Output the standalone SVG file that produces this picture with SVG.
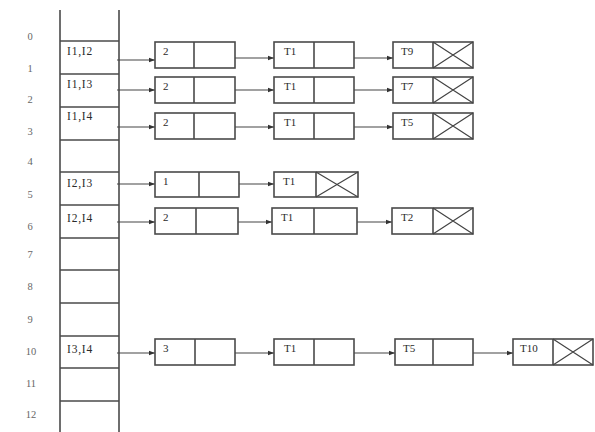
<svg xmlns="http://www.w3.org/2000/svg" width="595" height="432" viewBox="0 0 595 432">
<defs>
<style>
.ln{stroke:#4a4a4a;stroke-width:1.6;fill:none}
.bx{stroke:#4a4a4a;stroke-width:1.6;fill:#fff}
.cn{stroke:#444;stroke-width:1.2;fill:none}
.t{font-family:"Liberation Serif",serif;font-size:11px;fill:#2a2a2a}
.e{font-family:"Liberation Serif",serif;font-size:11.5px;fill:#2a2a2a;letter-spacing:0.8px}
.ix{font-family:"Liberation Serif",serif;font-size:10.5px;fill:#666;text-anchor:middle}
</style>
<marker id="ah" viewBox="0 0 8 8" refX="8" refY="4" markerWidth="6" markerHeight="6" orient="auto" markerUnits="userSpaceOnUse">
<path d="M0,1 L8,4 L0,7 Z" fill="#333"/>
</marker>
</defs>
<rect width="595" height="432" fill="#fff"/>
<g id="table">
<line class="ln" x1="60" y1="10" x2="60" y2="432"/>
<line class="ln" x1="119" y1="10" x2="119" y2="432"/>
<line class="ln" x1="60" y1="41" x2="119" y2="41"/>
<line class="ln" x1="60" y1="74" x2="119" y2="74"/>
<line class="ln" x1="60" y1="107" x2="119" y2="107"/>
<line class="ln" x1="60" y1="140" x2="119" y2="140"/>
<line class="ln" x1="60" y1="172" x2="119" y2="172"/>
<line class="ln" x1="60" y1="205" x2="119" y2="205"/>
<line class="ln" x1="60" y1="238" x2="119" y2="238"/>
<line class="ln" x1="60" y1="270" x2="119" y2="270"/>
<line class="ln" x1="60" y1="303" x2="119" y2="303"/>
<line class="ln" x1="60" y1="336" x2="119" y2="336"/>
<line class="ln" x1="60" y1="368" x2="119" y2="368"/>
<line class="ln" x1="60" y1="401" x2="119" y2="401"/>
<text class="ix" x="30" y="40">0</text>
<text class="ix" x="30" y="72">1</text>
<text class="ix" x="30" y="103">2</text>
<text class="ix" x="30" y="135">3</text>
<text class="ix" x="30" y="165">4</text>
<text class="ix" x="30" y="198">5</text>
<text class="ix" x="30" y="230">6</text>
<text class="ix" x="30" y="258">7</text>
<text class="ix" x="30" y="290">8</text>
<text class="ix" x="30" y="323">9</text>
<text class="ix" x="31" y="355">10</text>
<text class="ix" x="31" y="387">11</text>
<text class="ix" x="31" y="418">12</text>
<text class="e" x="67" y="55">I1,I2</text>
<text class="e" x="67" y="88">I1,I3</text>
<text class="e" x="67" y="120">I1,I4</text>
<text class="e" x="67" y="187">I2,I3</text>
<text class="e" x="67" y="222">I2,I4</text>
<text class="e" x="67" y="353">I3,I4</text>
</g>
<g id="connectors">
<line class="cn" x1="117" y1="60" x2="155" y2="60" marker-end="url(#ah)"/>
<line class="cn" x1="117" y1="90" x2="155" y2="90" marker-end="url(#ah)"/>
<line class="cn" x1="117" y1="127" x2="155" y2="127" marker-end="url(#ah)"/>
<line class="cn" x1="117" y1="184" x2="155" y2="184" marker-end="url(#ah)"/>
<line class="cn" x1="117" y1="222" x2="155" y2="222" marker-end="url(#ah)"/>
<line class="cn" x1="117" y1="353" x2="155" y2="353" marker-end="url(#ah)"/>
<line class="cn" x1="235" y1="58" x2="274" y2="58" marker-end="url(#ah)"/>
<line class="cn" x1="354" y1="58" x2="393" y2="58" marker-end="url(#ah)"/>
<line class="cn" x1="235" y1="90" x2="274" y2="90" marker-end="url(#ah)"/>
<line class="cn" x1="354" y1="90" x2="393" y2="90" marker-end="url(#ah)"/>
<line class="cn" x1="235" y1="127" x2="274" y2="127" marker-end="url(#ah)"/>
<line class="cn" x1="354" y1="127" x2="393" y2="127" marker-end="url(#ah)"/>
<line class="cn" x1="239" y1="184" x2="274" y2="184" marker-end="url(#ah)"/>
<line class="cn" x1="238" y1="222" x2="272" y2="222" marker-end="url(#ah)"/>
<line class="cn" x1="355" y1="222" x2="392" y2="222" marker-end="url(#ah)"/>
<line class="cn" x1="235" y1="353" x2="274" y2="353" marker-end="url(#ah)"/>
<line class="cn" x1="354" y1="353" x2="395" y2="353" marker-end="url(#ah)"/>
<line class="cn" x1="473" y1="353" x2="513" y2="353" marker-end="url(#ah)"/>
</g>
<g id="r1n1"><rect class="bx" x="155" y="42" width="80" height="26"/><line class="ln" x1="194" y1="42" x2="194" y2="68"/><text class="t" x="163" y="55">2</text></g>
<g id="r1n2"><rect class="bx" x="274" y="42" width="80" height="26"/><line class="ln" x1="314" y1="42" x2="314" y2="68"/><text class="t" x="284" y="55">T1</text></g>
<g id="r1n3"><rect class="bx" x="393" y="42" width="80" height="26"/><line class="ln" x1="433" y1="42" x2="433" y2="68"/><path class="cn" d="M433,42 L473,68 M433,68 L473,42"/><text class="t" x="401" y="55">T9</text></g>
<g id="r2n1"><rect class="bx" x="155" y="77" width="80" height="26"/><line class="ln" x1="194" y1="77" x2="194" y2="103"/><text class="t" x="163" y="90">2</text></g>
<g id="r2n2"><rect class="bx" x="274" y="77" width="80" height="26"/><line class="ln" x1="314" y1="77" x2="314" y2="103"/><text class="t" x="284" y="90">T1</text></g>
<g id="r2n3"><rect class="bx" x="393" y="77" width="80" height="26"/><line class="ln" x1="433" y1="77" x2="433" y2="103"/><path class="cn" d="M433,77 L473,103 M433,103 L473,77"/><text class="t" x="401" y="90">T7</text></g>
<g id="r3n1"><rect class="bx" x="155" y="113" width="80" height="26"/><line class="ln" x1="194" y1="113" x2="194" y2="139"/><text class="t" x="163" y="126">2</text></g>
<g id="r3n2"><rect class="bx" x="274" y="113" width="80" height="26"/><line class="ln" x1="314" y1="113" x2="314" y2="139"/><text class="t" x="284" y="126">T1</text></g>
<g id="r3n3"><rect class="bx" x="393" y="113" width="80" height="26"/><line class="ln" x1="433" y1="113" x2="433" y2="139"/><path class="cn" d="M433,113 L473,139 M433,139 L473,113"/><text class="t" x="401" y="126">T5</text></g>
<g id="r5n1"><rect class="bx" x="155" y="172" width="84" height="25"/><line class="ln" x1="199" y1="172" x2="199" y2="197"/><text class="t" x="163" y="185">1</text></g>
<g id="r5n2"><rect class="bx" x="274" y="172" width="84" height="25"/><line class="ln" x1="316" y1="172" x2="316" y2="197"/><path class="cn" d="M316,172 L358,197 M316,197 L358,172"/><text class="t" x="283" y="185">T1</text></g>
<g id="r6n1"><rect class="bx" x="155" y="208" width="83" height="26"/><line class="ln" x1="196" y1="208" x2="196" y2="234"/><text class="t" x="163" y="221">2</text></g>
<g id="r6n2"><rect class="bx" x="272" y="208" width="85" height="26"/><line class="ln" x1="314" y1="208" x2="314" y2="234"/><text class="t" x="281" y="221">T1</text></g>
<g id="r6n3"><rect class="bx" x="392" y="208" width="81" height="26"/><line class="ln" x1="433" y1="208" x2="433" y2="234"/><path class="cn" d="M433,208 L473,234 M433,234 L473,208"/><text class="t" x="401" y="221">T2</text></g>
<g id="r10n1"><rect class="bx" x="155" y="339" width="80" height="26"/><line class="ln" x1="195" y1="339" x2="195" y2="365"/><text class="t" x="163" y="352">3</text></g>
<g id="r10n2"><rect class="bx" x="274" y="339" width="80" height="26"/><line class="ln" x1="314" y1="339" x2="314" y2="365"/><text class="t" x="284" y="352">T1</text></g>
<g id="r10n3"><rect class="bx" x="395" y="339" width="78" height="26"/><line class="ln" x1="433" y1="339" x2="433" y2="365"/><text class="t" x="403" y="352">T5</text></g>
<g id="r10n4"><rect class="bx" x="513" y="339" width="80" height="26"/><line class="ln" x1="553" y1="339" x2="553" y2="365"/><path class="cn" d="M553,339 L593,365 M553,365 L593,339"/><text class="t" x="520" y="352">T10</text></g>
</svg>
